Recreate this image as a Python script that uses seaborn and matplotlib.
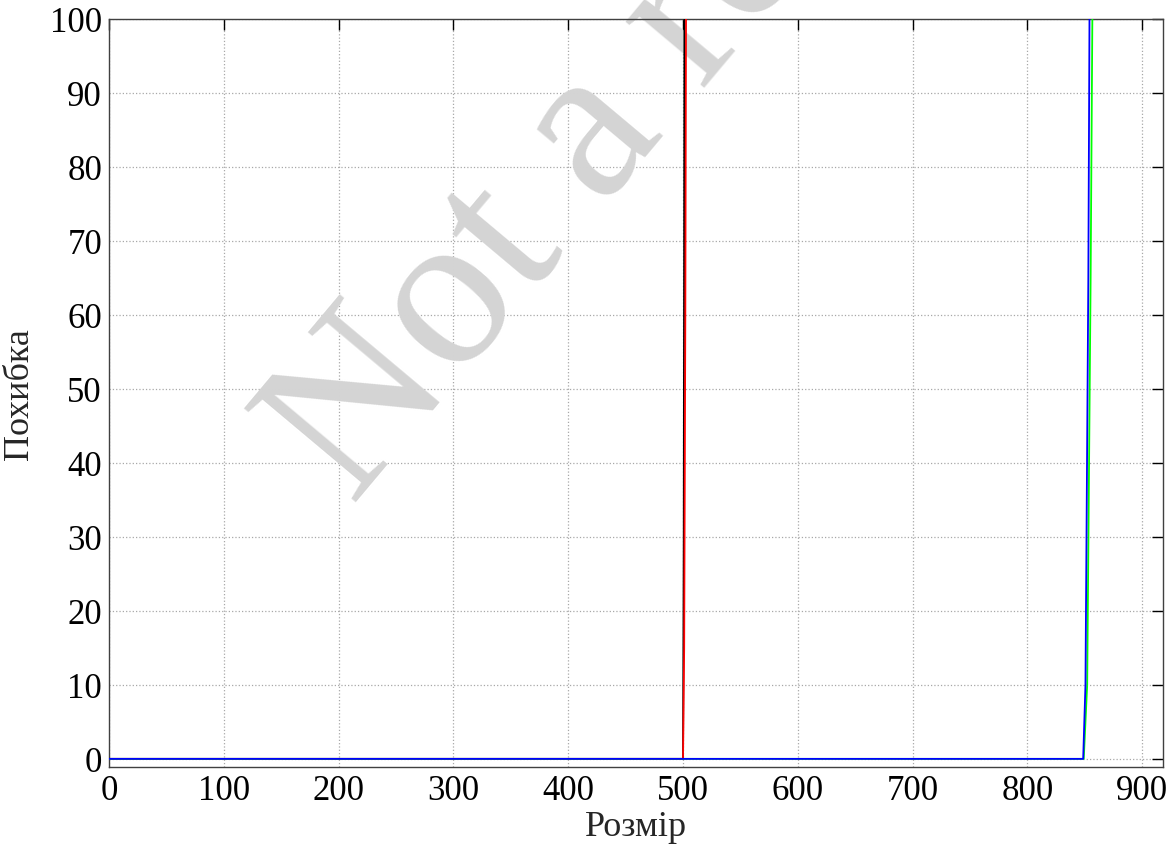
import seaborn as sns
import pandas as pd
from matplotlib import pyplot as plt

# error vs. size, four runs
size_black = [0, 100, 200, 300, 400, 500, 500.6, 501.2, 502]
err_black = [0, 0, 0, 0, 0, 0, 30, 100, 180]

size_red = [0, 100, 200, 300, 400, 500, 501, 502, 502.6, 504]
err_red = [0, 0, 0, 0, 0, 0, 15, 60, 100, 180]

size_green = [0, 200, 400, 600, 800, 849, 852, 855, 856.5, 858]
err_green = [0, 0, 0, 0, 0, 0, 10, 65, 100, 140]

size_blue = [0, 200, 400, 600, 800, 848.5, 850.5, 853, 854, 856]
err_blue = [0, 0, 0, 0, 0, 0, 10, 65, 100, 140]

xticks = [0, 100, 200, 300, 400, 500, 600, 700, 800, 900]
yticks = [0, 10, 20, 30, 40, 50, 60, 70, 80, 90, 100]

sns.set_style('white')
plt.rcParams['font.family'] = ['Liberation Serif', 'DejaVu Serif']

fig = plt.figure(figsize=(11.74, 8.54), dpi=100)
ax = fig.add_axes([0.0928, 0.1007, 0.8978, 0.8759])

series = [(size_black, err_black, 'black'),
          (size_red, err_red, 'red'),
          (size_green, err_green, '#00ff00'),
          (size_blue, err_blue, 'blue')]
for xs, ys, c in series:
    sns.lineplot(x=xs, y=ys, color=c, linewidth=1.3, ax=ax, sort=False, zorder=3)

ax.set_xlim(0, 918)
ax.set_ylim(-1.1, 100)
ax.set_xticks(xticks)
ax.set_yticks(yticks)
ax.tick_params(direction='in', length=8, width=1, top=True, right=True,
               labelsize=25, pad=5, colors='black')
ax.grid(True, linestyle=':', color='#a8a8a8', linewidth=0.9)
for s in ax.spines.values():
    s.set_color('#404040')
    s.set_linewidth(1)

ax.set_xlabel('Розмір', fontsize=26, labelpad=2)
ax.set_ylabel('Похибка', fontsize=26, labelpad=10)

# watermark
ax.text(0.505, 0.84, 'Not a real', transform=fig.transFigure, fontsize=160,
        color='#d4d4d4', rotation=50, ha='center', va='center',
        zorder=1, clip_on=False)

plt.savefig('out.png', dpi=100)
